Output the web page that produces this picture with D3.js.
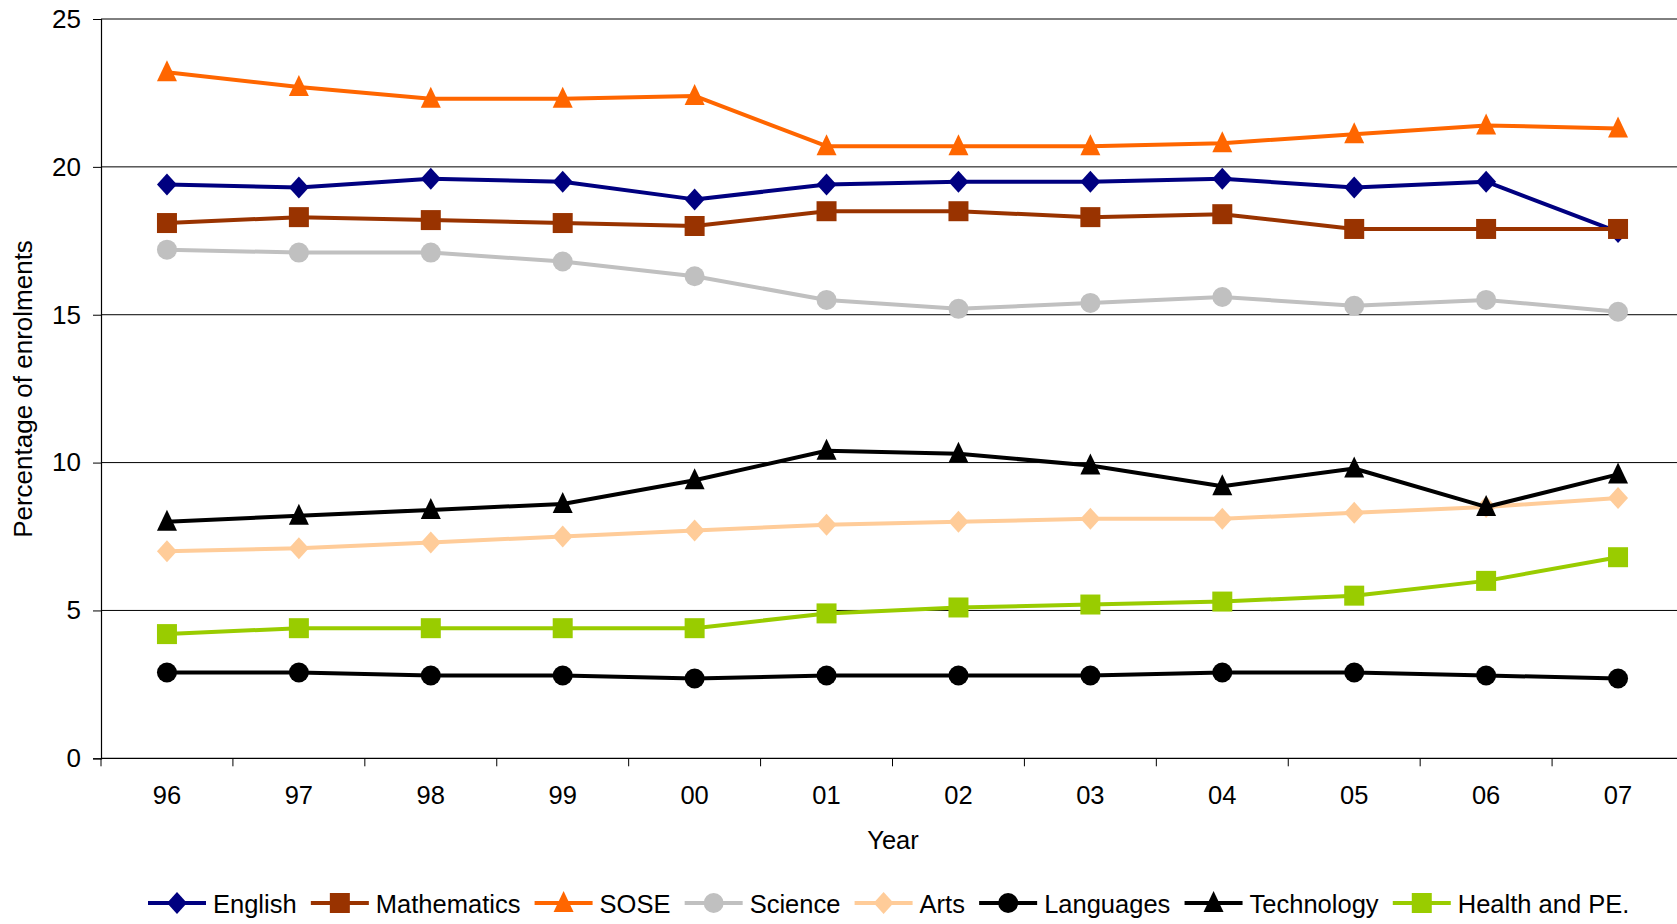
<!DOCTYPE html>
<html>
<head>
<meta charset="utf-8">
<script src="https://cdn.jsdelivr.net/npm/d3@7"></script>
<style>
  html, body { margin: 0; padding: 0; background: #fff; }
  svg { display: block; }
  text { font-family: "Liberation Sans", Arial, sans-serif; fill: #000; }
</style>
</head>
<body>
<svg id="chart" width="1677" height="924"></svg>
<script>
// Year labels along the x axis
const years = ["96", "97", "98", "99", "00", "01", "02", "03", "04", "05", "06", "07"];
const yTicks = [0, 5, 10, 15, 20, 25];

// Share of enrolments (%) by learning area
const english     = [19.4, 19.3, 19.6, 19.5, 18.9, 19.4, 19.5, 19.5, 19.6, 19.3, 19.5, 17.8];
const mathematics = [18.1, 18.3, 18.2, 18.1, 18.0, 18.5, 18.5, 18.3, 18.4, 17.9, 17.9, 17.9];
const sose        = [23.2, 22.7, 22.3, 22.3, 22.4, 20.7, 20.7, 20.7, 20.8, 21.1, 21.4, 21.3];
const science     = [17.2, 17.1, 17.1, 16.8, 16.3, 15.5, 15.2, 15.4, 15.6, 15.3, 15.5, 15.1];
const arts        = [7.0, 7.1, 7.3, 7.5, 7.7, 7.9, 8.0, 8.1, 8.1, 8.3, 8.5, 8.8];
const languages   = [2.9, 2.9, 2.8, 2.8, 2.7, 2.8, 2.8, 2.8, 2.9, 2.9, 2.8, 2.7];
const technology  = [8.0, 8.2, 8.4, 8.6, 9.4, 10.4, 10.3, 9.9, 9.2, 9.8, 8.5, 9.6];
const healthPE    = [4.2, 4.4, 4.4, 4.4, 4.4, 4.9, 5.1, 5.2, 5.3, 5.5, 6.0, 6.8];

const seriesNames = ["English", "Mathematics", "SOSE", "Science", "Arts", "Languages", "Technology", "Health and PE."];
const seriesValues = [english, mathematics, sose, science, arts, languages, technology, healthPE];
const seriesColors = ["#000080", "#993300", "#FF6600", "#C0C0C0", "#FFCC99", "#000000", "#000000", "#99CC00"];
const seriesMarkers = ["diamond", "square", "triangle", "circle", "diamond", "circle", "triangle", "square"];

const svg = d3.select("#chart");

const x = d3.scaleBand().domain(years).range([101, 1684]);
const y = d3.scaleLinear().domain([0, 25]).range([758.3, 19]);
const cx = d => x(d) + x.bandwidth() / 2;

// marker outlines centred on the origin
function markerPath(kind) {
  const p = d3.path();
  if (kind === "diamond") {
    p.moveTo(0, -11); p.lineTo(10, 0); p.lineTo(0, 11); p.lineTo(-10, 0); p.closePath();
  } else if (kind === "square") {
    p.rect(-10, -10, 20, 20);
  } else if (kind === "triangle") {
    p.moveTo(0, -12); p.lineTo(10, 9); p.lineTo(-10, 9); p.closePath();
  } else {
    p.arc(0, 0, 10, 0, 2 * Math.PI);
  }
  return p.toString();
}

// horizontal gridlines
svg.append("g")
  .selectAll("line")
  .data(yTicks.filter(v => v > 0))
  .join("line")
  .attr("x1", x.range()[0]).attr("x2", x.range()[1])
  .attr("y1", d => y(d)).attr("y2", d => y(d))
  .attr("stroke", "#000").attr("stroke-width", 1);

// y axis
const yAxis = svg.append("g")
  .attr("transform", `translate(${x.range()[0]},0)`)
  .call(d3.axisLeft(y).tickValues(yTicks).tickSize(8).tickPadding(12).tickFormat(d3.format("d")));
yAxis.select(".domain").attr("stroke", "#000").attr("stroke-width", 1.2);
yAxis.selectAll(".tick line").attr("stroke", "#000");
yAxis.selectAll(".tick text")
  .style("font-family", '"Liberation Sans", Arial, sans-serif')
  .style("font-size", "26px").attr("fill", "#000");

// x axis: labels at category centres, tick marks on category boundaries
const xAxis = svg.append("g").attr("transform", `translate(0,${y(0)})`);
xAxis.append("line")
  .attr("x1", x.range()[0]).attr("x2", x.range()[1])
  .attr("stroke", "#000").attr("stroke-width", 1.2);
xAxis.selectAll("line.tk")
  .data(years.map(d => x(d)).concat([x.range()[1]]))
  .join("line").attr("class", "tk")
  .attr("x1", d => d).attr("x2", d => d)
  .attr("y1", 0).attr("y2", 8)
  .attr("stroke", "#000");
xAxis.selectAll("text")
  .data(years)
  .join("text")
  .attr("x", d => cx(d)).attr("y", 46)
  .attr("text-anchor", "middle")
  .style("font-size", "25.5px")
  .text(d => d);

// axis titles
svg.append("text")
  .attr("x", 893).attr("y", 849)
  .attr("text-anchor", "middle")
  .style("font-size", "25.5px")
  .text("Year");
svg.append("text")
  .attr("transform", "translate(32,389) rotate(-90)")
  .attr("text-anchor", "middle")
  .style("font-size", "26px")
  .text("Percentage of enrolments");

// series lines and markers, drawn in legend order
const line = d3.line().x((v, i) => cx(years[i])).y(v => y(v));
seriesNames.forEach((name, s) => {
  const g = svg.append("g").attr("class", "series");
  g.append("path")
    .datum(seriesValues[s])
    .attr("d", line)
    .attr("fill", "none")
    .attr("stroke", seriesColors[s])
    .attr("stroke-width", 4)
    .attr("stroke-linejoin", "round");
  g.selectAll("path.mk")
    .data(seriesValues[s])
    .join("path").attr("class", "mk")
    .attr("d", markerPath(seriesMarkers[s]))
    .attr("transform", (v, i) => `translate(${cx(years[i])},${y(v)})`)
    .attr("fill", seriesColors[s]);
});

// legend row along the bottom
const legend = svg.append("g").attr("class", "legend");
let lx = 148;
const ly = 903;
seriesNames.forEach((name, s) => {
  const item = legend.append("g").attr("transform", `translate(${lx},${ly})`);
  item.append("line")
    .attr("x1", 0).attr("x2", 58)
    .attr("stroke", seriesColors[s]).attr("stroke-width", 4);
  item.append("path")
    .attr("d", markerPath(seriesMarkers[s]))
    .attr("transform", "translate(29,0)")
    .attr("fill", seriesColors[s]);
  const t = item.append("text")
    .attr("x", 65).attr("y", 10)
    .style("font-size", "25.5px")
    .text(name);
  lx += 65 + t.node().getComputedTextLength() + 14.2;
});
</script>
</body>
</html>
